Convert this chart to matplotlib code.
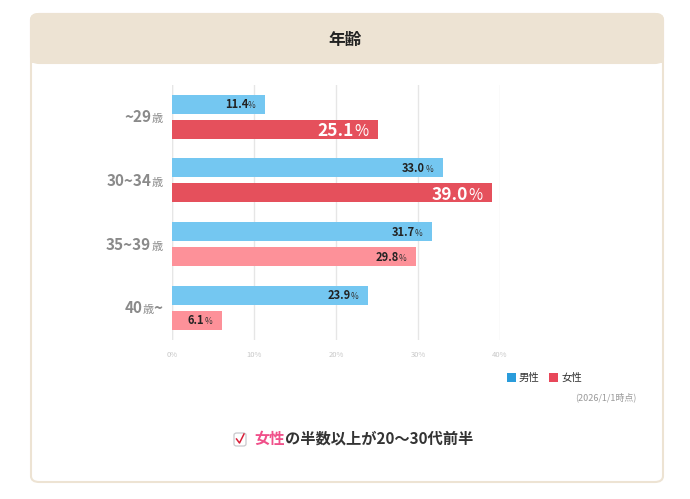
import matplotlib.pyplot as plt
from matplotlib.patches import FancyBboxPatch, Rectangle
from matplotlib.transforms import offset_copy
import numpy as np

plt.rcParams['font.family'] = ['Noto Sans CJK JP', 'DejaVu Sans']

# datos
age_nums = ['~29', '30~34', '35~39', '40']
age_tail = ['', '', '', '~']
male = [11.4, 33.0, 31.7, 23.9]
female = [25.1, 39.0, 29.8, 6.1]
female_top = [True, True, False, False]
xticks = [0, 10, 20, 30, 40]

blue = '#74C7F1'
red = '#E5505C'
pink = '#FD9199'

fig = plt.figure(figsize=(6.9, 4.99), dpi=100)
W, H = 690, 499

def fx(px):
    return px / W

def fy(py):
    return 1 - py / H

# tarjeta
card = FancyBboxPatch((fx(31), fy(482)), fx(632), (482 - 14) / H,
                      boxstyle='round,pad=0,rounding_size=0.012',
                      transform=fig.transFigure, facecolor='white',
                      edgecolor='#EDE3D3', linewidth=1.5, zorder=-3)
fig.patches.append(card)
header = FancyBboxPatch((fx(31), fy(63)), fx(632), (63 - 14) / H,
                        boxstyle='round,pad=0,rounding_size=0.012',
                        transform=fig.transFigure, facecolor='#EDE3D3',
                        edgecolor='#EDE3D3', linewidth=1.5, zorder=-2)
fig.patches.append(header)
fig.patches.append(Rectangle((fx(31), fy(63)), fx(632), 12 / H,
                             transform=fig.transFigure, facecolor='#EDE3D3',
                             edgecolor='none', zorder=-2))
fig.text(0.5, fy(40), '年齢', ha='center', va='center', fontsize=12,
         fontweight='bold', color='#222222')

# grafico
ax = fig.add_axes([fx(172), fy(340), fx(500 - 172), (340 - 85) / H])
ax.set_zorder(2)
ax.patch.set_visible(False)
y = np.arange(len(age_nums))
off = 0.197
h = 0.30
fcols = [red if t else pink for t in female_top]
ax.barh(y - off, male, height=h, color=blue, zorder=3)
ax.barh(y + off, female, height=h, color=fcols, zorder=3)

ax.set_xlim(0, 40)
ax.set_ylim(3.51, -0.50)
ax.set_xticks(xticks)
ax.set_xticklabels([f'{t}%' for t in xticks], fontsize=5.5, color='#C8C8C8')
ax.tick_params(axis='x', length=0, pad=8)
ax.set_yticks([])
ax.grid(axis='x', color='#E6E6E6', linewidth=1, zorder=0)
for s in ax.spines.values():
    s.set_visible(False)
ax.axvline(0, color='#E6E6E6', linewidth=1, zorder=1)

renderer = fig.canvas.get_renderer()

def rich_right(x, yy, pieces, dx, dy, gap=0.0):
    # pone trozos de texto alineados a la derecha sobre la misma linea base
    cursor = dx
    for s, size, weight, color in reversed(pieces):
        tr = offset_copy(ax.transData, fig=fig, x=-cursor, y=dy, units='points')
        t = ax.text(x, yy, s, transform=tr, ha='right', va='baseline',
                    fontsize=size, fontweight=weight, color=color, zorder=5,
                    clip_on=False)
        cursor += t.get_window_extent(renderer).width * 72 / fig.dpi + gap

for i in range(len(age_nums)):
    rich_right(male[i], y[i] - off,
               [(f'{male[i]:.1f}', 8, 'bold', '#222222'), ('%', 6, 'normal', '#333333')],
               7, -3)
    if female_top[i]:
        rich_right(female[i], y[i] + off,
                   [(f'{female[i]:.1f}', 12.5, 'bold', 'white'), ('%', 11, 'normal', 'white')],
                   7, -5)
    else:
        rich_right(female[i], y[i] + off,
                   [(f'{female[i]:.1f}', 8, 'bold', '#222222'), ('%', 6, 'normal', '#333333')],
                   7, -3)

# etiquetas de edad
gray = '#8A8A8A'
for i in range(len(age_nums)):
    pieces = [(age_nums[i], 11, 'bold', gray), ('歳', 8, 'normal', gray)]
    if age_tail[i]:
        pieces.append((age_tail[i], 11, 'bold', gray))
    rich_right(0, y[i], pieces, 7, -4)

# leyenda
fig.patches.append(Rectangle((fx(507), fy(382)), 9 / W, 9 / H, transform=fig.transFigure,
                             facecolor='#2A9CDB', edgecolor='none'))
fig.text(fx(519), fy(377.5), '男性', ha='left', va='center', fontsize=7.5, color='#333333')
fig.patches.append(Rectangle((fx(549), fy(382)), 9 / W, 9 / H, transform=fig.transFigure,
                             facecolor='#E8475A', edgecolor='none'))
fig.text(fx(561), fy(377.5), '女性', ha='left', va='center', fontsize=7.5, color='#333333')
fig.text(fx(636), fy(397), '(2026/1/1時点)', ha='right', va='center', fontsize=6.5,
         color='#999999')

# conclusion
fig.patches.append(FancyBboxPatch((fx(234), fy(446)), 12 / W, 13 / H,
                                  boxstyle='round,pad=0,rounding_size=0.004',
                                  transform=fig.transFigure, facecolor='white',
                                  edgecolor='#C8C8CC', linewidth=0.9))
fig.lines.append(plt.Line2D([fx(236.5), fx(239.5), fx(244)], [fy(439), fy(443), fy(434)],
                            transform=fig.transFigure, color='#D9203A', linewidth=1.1))
t1 = fig.text(fx(254), fy(439), '女性', ha='left', va='center', fontsize=11,
              fontweight='bold', color='#F0508A')
bb = t1.get_window_extent(renderer)
t2 = fig.text(bb.x1 / W, fy(439), 'の半数以上が20〜30代前半', ha='left', va='center',
              fontsize=11, fontweight='bold', color='#333333')

fig.savefig('out.png', dpi=100)
